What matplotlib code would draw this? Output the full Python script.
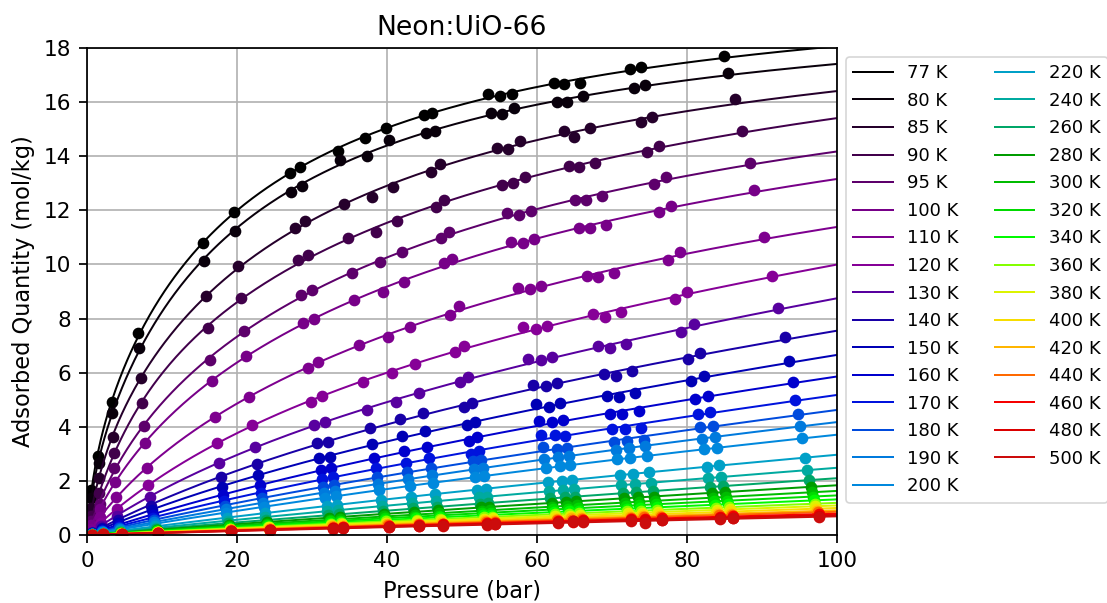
import numpy as np
import matplotlib
matplotlib.use("Agg")
import matplotlib.pyplot as plt

# ---------------- data ----------------
TEMPS = [77, 80, 85, 90, 95, 100, 110, 120, 130, 140, 150, 160, 170, 180, 190, 200,
         220, 240, 260, 280, 300, 320, 340, 360, 380, 400, 420, 440, 460, 480, 500]

# measured pressure steps (bar) of the 77 K isotherm, and the largest extra
# pressure of the same step at the highest temperatures
P_NOMINAL = [0.53, 1.51, 3.29, 6.84, 15.4, 19.6, 27.0, 28.4, 33.5, 37.1, 39.9,
             44.9, 46.0, 53.5, 55.0, 56.6, 62.3, 63.6, 65.7, 72.4, 73.9, 84.9]
P_SHIFT_MAX = [0.16, 0.68, 1.32, 2.67, 3.85, 4.80, 5.81, 5.79, 6.70, 7.20, 7.58,
               8.40, 8.42, 9.31, 9.79, 9.51, 10.28, 10.81, 10.91, 12.02, 12.27, 12.74]
# fraction of that pressure shift seen at each temperature
SHIFT_FRAC = [0, 0.04, 0.12, 0.19, 0.27, 0.32, 0.42, 0.50, 0.57, 0.64, 0.68, 0.72,
              0.75, 0.78, 0.80, 0.82, 0.85, 0.87, 0.89, 0.91, 0.92, 0.93, 0.94,
              0.95, 0.96, 0.97, 0.98, 0.99, 1.0, 1.0, 1.0]

Q_077 = [1.66, 2.92, 4.93, 7.48, 10.78, 11.93, 13.39, 13.61, 14.20, 14.66, 15.03, 15.52, 15.61, 16.30, 16.24, 16.30, 16.69, 16.68, 16.72, 17.21, 17.31, 17.71]
Q_080 = [1.35, 2.65, 4.52, 6.90, 10.13, 11.25, 12.66, 12.91, 13.86, 14.02, 14.60, 14.87, 14.94, 15.61, 15.56, 15.79, 16.00, 15.99, 16.23, 16.52, 16.62, 17.08]
Q_085 = [1.00, 2.10, 3.63, 5.79, 8.84, 9.95, 11.33, 11.62, 12.22, 12.50, 12.85, 13.42, 13.71, 14.29, 14.25, 14.56, 14.94, 14.70, 15.05, 15.27, 15.44, 16.10]
Q_090 = [0.70, 1.55, 3.02, 4.87, 7.64, 8.75, 10.15, 10.35, 10.96, 11.21, 11.62, 12.13, 12.38, 12.95, 13.00, 13.22, 13.65, 13.61, 13.76, 14.17, 14.38, 14.94]
Q_095 = [0.50, 1.15, 2.46, 4.04, 6.45, 7.55, 8.87, 9.05, 9.70, 10.10, 10.45, 10.96, 11.21, 11.89, 11.83, 11.98, 12.38, 12.38, 12.53, 12.97, 13.22, 13.74]
Q_100 = [0.38, 0.95, 1.97, 3.41, 5.70, 6.61, 7.82, 7.97, 8.68, 8.99, 9.36, 10.05, 10.20, 10.84, 10.78, 10.93, 11.33, 11.33, 11.46, 11.95, 12.17, 12.75]
Q_110 = [0.22, 0.68, 1.42, 2.46, 4.37, 5.11, 6.16, 6.40, 7.02, 7.31, 7.70, 8.13, 8.46, 9.12, 9.08, 9.20, 9.57, 9.52, 9.67, 10.16, 10.45, 11.02]
Q_120 = [0.14, 0.45, 0.95, 1.85, 3.39, 4.07, 4.93, 5.15, 5.67, 5.98, 6.32, 6.77, 6.98, 7.67, 7.60, 7.74, 8.16, 8.07, 8.25, 8.71, 8.99, 9.58]
Q_130 = [0.11, 0.33, 0.72, 1.42, 2.67, 3.24, 4.07, 4.19, 4.62, 4.93, 5.24, 5.67, 5.85, 6.49, 6.47, 6.57, 6.98, 6.90, 7.05, 7.51, 7.79, 8.38]
Q_140 = [0.08, 0.26, 0.54, 1.08, 2.15, 2.62, 3.39, 3.45, 3.96, 4.27, 4.50, 4.74, 4.87, 5.54, 5.51, 5.60, 5.94, 5.88, 6.07, 6.50, 6.74, 7.31]
Q_150 = [0.07, 0.21, 0.45, 0.91, 1.78, 2.22, 2.83, 2.89, 3.38, 3.65, 3.86, 4.07, 4.16, 4.83, 4.74, 4.87, 5.15, 5.09, 5.26, 5.70, 5.89, 6.44]
Q_160 = [0.06, 0.18, 0.37, 0.75, 1.48, 1.83, 2.39, 2.48, 2.85, 3.09, 3.27, 3.49, 3.61, 4.22, 4.16, 4.25, 4.47, 4.46, 4.59, 5.03, 5.14, 5.67]
Q_170 = [0.05, 0.15, 0.31, 0.63, 1.26, 1.57, 2.06, 2.14, 2.46, 2.67, 2.84, 2.99, 3.12, 3.70, 3.68, 3.66, 3.92, 3.93, 3.94, 4.46, 4.56, 4.99]
Q_180 = [0.04, 0.13, 0.27, 0.54, 1.08, 1.35, 1.78, 1.85, 2.14, 2.33, 2.47, 2.73, 2.78, 3.25, 3.18, 3.20, 3.45, 3.47, 3.50, 4.00, 4.04, 4.47]
Q_190 = [0.04, 0.11, 0.23, 0.48, 0.96, 1.19, 1.57, 1.64, 1.89, 2.06, 2.20, 2.43, 2.47, 2.80, 2.87, 2.92, 3.15, 3.22, 3.30, 3.56, 3.62, 4.02]
Q_200 = [0.03, 0.10, 0.20, 0.42, 0.83, 1.04, 1.38, 1.43, 1.66, 1.81, 1.93, 2.14, 2.18, 2.47, 2.54, 2.58, 2.80, 2.85, 2.92, 3.17, 3.22, 3.57]
Q_220 = [0.02, 0.07, 0.16, 0.32, 0.64, 0.81, 1.07, 1.11, 1.30, 1.42, 1.51, 1.68, 1.71, 1.95, 2.00, 2.04, 2.21, 2.26, 2.32, 2.52, 2.57, 2.86]
Q_240 = [0.02, 0.06, 0.13, 0.26, 0.53, 0.66, 0.88, 0.92, 1.07, 1.17, 1.25, 1.39, 1.42, 1.62, 1.66, 1.69, 1.84, 1.88, 1.93, 2.11, 2.14, 2.40]
Q_260 = [0.02, 0.05, 0.11, 0.22, 0.44, 0.55, 0.73, 0.76, 0.89, 0.98, 1.04, 1.16, 1.18, 1.35, 1.39, 1.42, 1.55, 1.58, 1.62, 1.77, 1.81, 2.03]
Q_280 = [0.01, 0.04, 0.09, 0.19, 0.38, 0.48, 0.64, 0.67, 0.78, 0.85, 0.91, 1.02, 1.04, 1.19, 1.22, 1.24, 1.36, 1.39, 1.42, 1.56, 1.59, 1.78]
Q_300 = [0.01, 0.04, 0.08, 0.17, 0.33, 0.42, 0.56, 0.59, 0.69, 0.75, 0.80, 0.90, 0.92, 1.05, 1.08, 1.10, 1.20, 1.23, 1.26, 1.38, 1.41, 1.58]
Q_320 = [0.01, 0.035, 0.07, 0.15, 0.30, 0.38, 0.50, 0.53, 0.62, 0.68, 0.72, 0.81, 0.83, 0.95, 0.97, 0.99, 1.08, 1.11, 1.13, 1.24, 1.27, 1.42]
Q_340 = [0.01, 0.03, 0.065, 0.14, 0.27, 0.34, 0.45, 0.48, 0.56, 0.61, 0.65, 0.73, 0.75, 0.85, 0.87, 0.89, 0.97, 1.00, 1.02, 1.12, 1.14, 1.28]
Q_360 = [0.01, 0.03, 0.06, 0.12, 0.24, 0.31, 0.41, 0.43, 0.51, 0.55, 0.59, 0.66, 0.68, 0.77, 0.79, 0.81, 0.88, 0.90, 0.92, 1.01, 1.03, 1.16]
Q_380 = [0.01, 0.03, 0.05, 0.11, 0.22, 0.28, 0.38, 0.40, 0.46, 0.50, 0.54, 0.60, 0.62, 0.70, 0.72, 0.74, 0.81, 0.83, 0.85, 0.93, 0.95, 1.06]
Q_400 = [0.01, 0.02, 0.05, 0.10, 0.20, 0.26, 0.34, 0.36, 0.42, 0.46, 0.49, 0.55, 0.56, 0.64, 0.66, 0.68, 0.74, 0.76, 0.77, 0.85, 0.87, 0.97]
Q_420 = [0.01, 0.02, 0.045, 0.10, 0.19, 0.24, 0.32, 0.33, 0.39, 0.42, 0.45, 0.51, 0.52, 0.59, 0.61, 0.62, 0.68, 0.69, 0.71, 0.78, 0.79, 0.89]
Q_440 = [0.01, 0.02, 0.04, 0.09, 0.17, 0.22, 0.30, 0.31, 0.37, 0.40, 0.42, 0.48, 0.49, 0.56, 0.57, 0.58, 0.64, 0.65, 0.67, 0.73, 0.75, 0.84]
Q_460 = [0.00, 0.02, 0.04, 0.08, 0.16, 0.20, 0.27, 0.29, 0.34, 0.37, 0.39, 0.44, 0.45, 0.51, 0.53, 0.54, 0.58, 0.60, 0.61, 0.67, 0.69, 0.77]
Q_480 = [0.00, 0.02, 0.04, 0.08, 0.15, 0.19, 0.26, 0.27, 0.31, 0.34, 0.36, 0.41, 0.42, 0.48, 0.49, 0.50, 0.55, 0.56, 0.57, 0.63, 0.64, 0.72]
Q_500 = [0.00, 0.02, 0.03, 0.07, 0.14, 0.18, 0.24, 0.25, 0.30, 0.32, 0.34, 0.37, 0.40, 0.45, 0.52, 0.47, 0.53, 0.43, 0.54, 0.59, 0.62, 0.68]

LOADINGS = [Q_077, Q_080, Q_085, Q_090, Q_095, Q_100, Q_110, Q_120, Q_130, Q_140,
            Q_150, Q_160, Q_170, Q_180, Q_190, Q_200, Q_220, Q_240, Q_260, Q_280,
            Q_300, Q_320, Q_340, Q_360, Q_380, Q_400, Q_420, Q_440, Q_460, Q_480, Q_500]


def fit_dual_langmuir(p, q):
    """Least-squares dual-site Langmuir fit: grid over the two affinities,
    non-negative capacities solved linearly. Returns a callable isotherm."""
    bs = np.logspace(-4.5, 1.0, 111)
    F = bs[:, None] * p[None, :] / (1.0 + bs[:, None] * p[None, :])
    A = (F * F).sum(1)
    G = F @ F.T
    c = F @ q
    qq = q @ q
    a = A[:, None]
    d = A[None, :]
    det = a * d - G * G
    with np.errstate(divide="ignore", invalid="ignore"):
        q1 = (c[:, None] * d - G * c[None, :]) / det
        q2 = (a * c[None, :] - G * c[:, None]) / det
        sse = qq - 2 * (q1 * c[:, None] + q2 * c[None, :]) + q1 * q1 * a \
            + 2 * q1 * q2 * G + q2 * q2 * d
    ii, jj = np.meshgrid(np.arange(bs.size), np.arange(bs.size), indexing="ij")
    bad = (ii >= jj) | (q1 < 0) | (q2 < 0) | (np.abs(det) < 1e-9 * a * d) | ~np.isfinite(sse)
    sse = np.where(bad, np.inf, sse)
    s_single = qq - c * c / A
    k = np.argmin(s_single)
    i, j = np.unravel_index(np.argmin(sse), sse.shape)
    if np.isfinite(sse[i, j]) and sse[i, j] < s_single[k]:
        Q1, Q2, B1, B2 = q1[i, j], q2[i, j], bs[i], bs[j]
    else:
        Q1, Q2, B1, B2 = c[k] / A[k], 0.0, bs[k], bs[k]
    return lambda x: Q1 * B1 * x / (1 + B1 * x) + Q2 * B2 * x / (1 + B2 * x)


W, H, DPI = 1107, 603, 120
fig = plt.figure(figsize=(W / DPI, H / DPI), dpi=DPI)
ax = fig.add_axes([87 / W, 68 / H, 750 / W, 487 / H])

cmap = plt.get_cmap("nipy_spectral")
p_nom = np.array(P_NOMINAL)
p_shift = np.array(P_SHIFT_MAX)
p_line = np.linspace(0, 100, 600)

for T, frac, qv in zip(TEMPS, SHIFT_FRAC, LOADINGS):
    color = cmap((T - 77) / 445.0)
    p = p_nom + frac * p_shift
    q = np.array(qv)
    model = fit_dual_langmuir(p, q)
    ax.plot(p_line, model(p_line), color=color, lw=1.2, label=f"{T} K")
    ax.plot(p, q, "o", color=color, ms=6, linestyle="none")

ax.set_xlim(0, 100)
ax.set_ylim(0, 18)
ax.set_xticks(np.arange(0, 101, 20))
ax.set_yticks(np.arange(0, 19, 2))
ax.tick_params(labelsize=13, length=4.7, width=1.05, pad=4.7)
for sp in ax.spines.values():
    sp.set_linewidth(1.05)
ax.grid(True, lw=1.0)
ax.set_xlabel("Pressure (bar)", fontsize=13.5, labelpad=5.3)
ax.set_ylabel("Adsorbed Quantity (mol/kg)", fontsize=13.5, labelpad=5.3)
ax.set_title("Neon:UiO-66", fontsize=16, pad=8)
ax.legend(loc="upper left", bbox_to_anchor=(1.0, 1.0), ncol=2, fontsize=10.8,
          handlelength=2.2, labelspacing=0.53)

fig.savefig("out.png", dpi=DPI)
